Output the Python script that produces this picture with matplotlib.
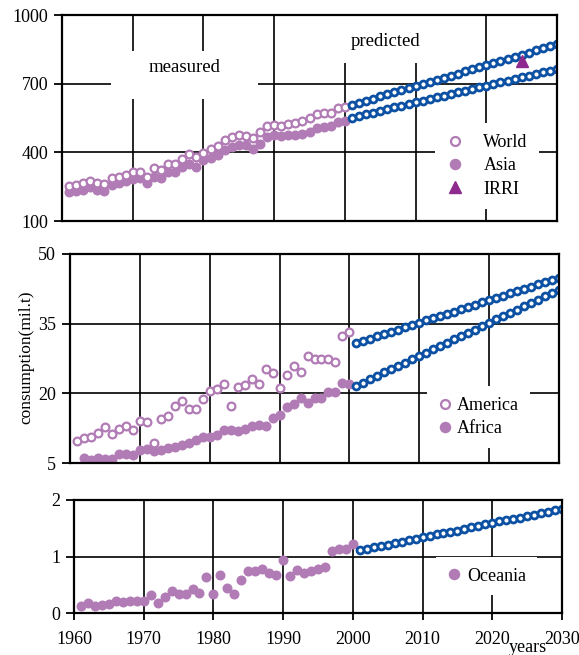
import matplotlib
matplotlib.use("Agg")
import matplotlib.pyplot as plt
from matplotlib.patches import Rectangle

plt.rcParams["font.family"] = ["Liberation Serif", "DejaVu Serif"]
plt.rcParams["font.size"] = 13

PURPLE = "#B17BB5"
BLUE = "#0B50A3"
IRRI_COLOR = "#8E2A8E"

# measured years and predicted years
years_meas = list(range(1961, 2001))
years_pred = list(range(2001, 2031))
years_africa = list(range(1962, 2001))

# top panel
world = [252, 257, 264, 274, 264, 261, 286, 293, 303, 314,
         314, 292, 332, 323, 351, 351, 373, 391, 378, 398,
         416, 427, 455, 467, 474, 472, 464, 491, 514, 520,
         517, 525, 529, 539, 549, 567, 571, 572, 593, 600]
asia = [227, 230, 237, 249, 235, 230, 258, 264, 274, 283,
        290, 268, 294, 290, 314, 314, 336, 351, 336, 365,
        377, 387, 409, 423, 430, 430, 416, 438, 467, 474,
        471, 474, 474, 481, 491, 506, 510, 517, 532, 539]
world_pred = [607, 616, 625, 634, 644, 653, 662, 671, 680, 689,
              699, 708, 717, 726, 735, 744, 754, 763, 772, 781,
              790, 799, 809, 818, 827, 836, 845, 854, 864, 873]
asia_pred = [552, 559, 567, 574, 581, 589, 596, 603, 610, 618,
             625, 632, 640, 647, 654, 662, 669, 676, 684, 691,
             698, 706, 713, 720, 727, 735, 742, 749, 757, 764]
irri_year = [2025]
irri_value = [798]

# middle panel
america = [9.7, 10.3, 10.5, 11.5, 12.7, 11.2, 12.4, 13.0, 12.2, 14.0,
           13.8, 9.2, 14.4, 15.1, 17.3, 18.3, 16.6, 16.6, 18.8, 20.6,
           21.0, 22.0, 17.2, 21.3, 21.9, 23.0, 22.0, 25.3, 24.4, 21.1,
           23.9, 25.9, 24.5, 28.0, 27.3, 27.3, 27.3, 26.8, 32.4, 33.3]
africa = [6.0, 5.6, 6.0, 5.8, 5.8, 6.9, 7.0, 6.7, 7.7, 8.0,
          7.5, 7.8, 8.2, 8.5, 8.9, 9.4, 10.0, 10.6, 10.7, 11.1,
          12.1, 12.0, 11.8, 12.4, 12.9, 13.2, 13.0, 14.6, 15.3, 17.0,
          17.7, 19.1, 18.0, 18.9, 18.9, 20.3, 20.2, 22.2, 22.0]
america_pred = [30.8, 31.3, 31.8, 32.3, 32.7, 33.2, 33.7, 34.2, 34.7, 35.2,
                35.7, 36.2, 36.6, 37.1, 37.6, 38.1, 38.6, 39.1, 39.6, 40.0,
                40.5, 41.0, 41.5, 42.0, 42.5, 43.0, 43.5, 43.9, 44.4, 44.9]
africa_pred = [21.6, 22.3, 23.0, 23.7, 24.5, 25.2, 25.9, 26.6, 27.3, 28.0,
               28.7, 29.5, 30.2, 30.9, 31.6, 32.3, 33.0, 33.7, 34.5, 35.2,
               35.9, 36.6, 37.3, 38.0, 38.7, 39.5, 40.2, 40.9, 41.6, 42.3]

# bottom panel
oceania = [0.12, 0.18, 0.12, 0.15, 0.16, 0.21, 0.20, 0.22, 0.22, 0.21,
           0.31, 0.18, 0.28, 0.39, 0.34, 0.34, 0.43, 0.36, 0.64, 0.34,
           0.67, 0.44, 0.33, 0.59, 0.74, 0.74, 0.77, 0.71, 0.68, 0.94,
           0.65, 0.76, 0.71, 0.74, 0.77, 0.81, 1.10, 1.14, 1.14, 1.22]
oceania_pred = [1.11, 1.14, 1.16, 1.19, 1.21, 1.24, 1.26, 1.29, 1.31, 1.34,
                1.36, 1.39, 1.41, 1.44, 1.46, 1.49, 1.52, 1.54, 1.57, 1.59,
                1.62, 1.64, 1.67, 1.69, 1.72, 1.74, 1.77, 1.79, 1.82, 1.84]

x_ticks = [1960, 1970, 1980, 1990, 2000, 2010, 2020, 2030]

open_kw = dict(linestyle="none", marker="o", ms=5.6, mew=1.6,
               mfc="white", mec=PURPLE, zorder=4)
fill_kw = dict(linestyle="none", marker="o", ms=7.2, mew=0,
               color=PURPLE, zorder=3)
pred_kw = dict(linestyle="none", marker="o", ms=5.0, mew=2.0,
               mfc="white", mec=BLUE, zorder=4)

fig = plt.figure(figsize=(5.79, 6.55), dpi=100)
W, H = 579, 655


def make_ax(left, top, right, bottom):
    return fig.add_axes([left / W, 1 - bottom / H, (right - left) / W, (bottom - top) / H])


def style(ax, yticks, show_x):
    ax.set_xlim(1960, 2030)
    ax.set_xticks(x_ticks)
    ax.set_ylim(yticks[0], yticks[-1])
    ax.set_yticks(yticks)
    ax.grid(True, color="black", lw=1.2, zorder=0.5)
    ax.set_axisbelow(True)
    for s in ax.spines.values():
        s.set_linewidth(1.6)
        s.set_zorder(5)
    ax.tick_params(axis="y", direction="out", length=6, width=1.3, pad=4)
    ax.tick_params(axis="x", direction="out", length=5, width=1.3, pad=8,
                   labelbottom=show_x, bottom=show_x)


def white_box(ax, x0, y0, x1, y1):
    ax.add_patch(Rectangle((x0, y0), x1 - x0, y1 - y0, transform=ax.transAxes,
                           facecolor="white", edgecolor="none", zorder=1))


leg_kw = dict(frameon=True, fancybox=False, framealpha=1, facecolor="white",
              edgecolor="none", numpoints=1, borderpad=0.6, fontsize=13,
              markerscale=1.15)

# top
ax1 = make_ax(62, 15, 557, 221)
style(ax1, [100, 400, 700, 1000], False)
ax1.plot(years_meas, asia, label="Asia", **fill_kw)
ax1.plot(years_meas, world, label="World", **open_kw)
ax1.plot(years_pred, world_pred, **pred_kw)
ax1.plot(years_pred, asia_pred, **pred_kw)
ax1.plot(irri_year, irri_value, linestyle="none", marker="^", ms=8,
         color=IRRI_COLOR, label="IRRI", zorder=5)
white_box(ax1, 0.099, 0.592, 0.396, 0.825)
ax1.text(0.248, 0.743, "measured", transform=ax1.transAxes,
         ha="center", va="center", fontsize=13.5, zorder=2)
white_box(ax1, 0.50, 0.767, 0.80, 1.0)
ax1.text(0.653, 0.869, "predicted", transform=ax1.transAxes,
         ha="center", va="center", fontsize=13.5, zorder=2)
h, l = ax1.get_legend_handles_labels()
order = [l.index("World"), l.index("Asia"), l.index("IRRI")]
ax1.legend([h[i] for i in order], [l[i] for i in order], loc="center",
           bbox_to_anchor=(0.858, 0.267), handlelength=1.0,
           handletextpad=1.1, labelspacing=0.35, **leg_kw)

# middle
ax2 = make_ax(70, 254, 559, 463)
style(ax2, [5, 20, 35, 50], False)
ax2.plot(years_africa, africa, label="Africa", **fill_kw)
ax2.plot(years_meas, america, label="America", **open_kw)
ax2.plot(years_pred, america_pred, **pred_kw)
ax2.plot(years_pred, africa_pred, **pred_kw)
h, l = ax2.get_legend_handles_labels()
ax2.legend([h[1], h[0]], [l[1], l[0]], loc="center",
           bbox_to_anchor=(0.835, 0.22), handlelength=0.8,
           handletextpad=0.3, labelspacing=0.35, **leg_kw)

# bottom
ax3 = make_ax(74, 500, 562, 613)
style(ax3, [0, 1, 2], True)
ax3.plot(years_meas, oceania, label="Oceania", **fill_kw)
ax3.plot(years_pred, oceania_pred, **pred_kw)
ax3.legend(loc="center", bbox_to_anchor=(0.845, 0.327), handlelength=0.8,
           handletextpad=0.3, **leg_kw)

fig.text(26 / W, 1 - 357 / H, "consumption(mil.t)", rotation=90,
         ha="center", va="center", fontsize=12.5)
fig.text(528 / W, 1 - 647 / H, "years", ha="center", va="center", fontsize=13)

fig.savefig("out.png", dpi=100)
